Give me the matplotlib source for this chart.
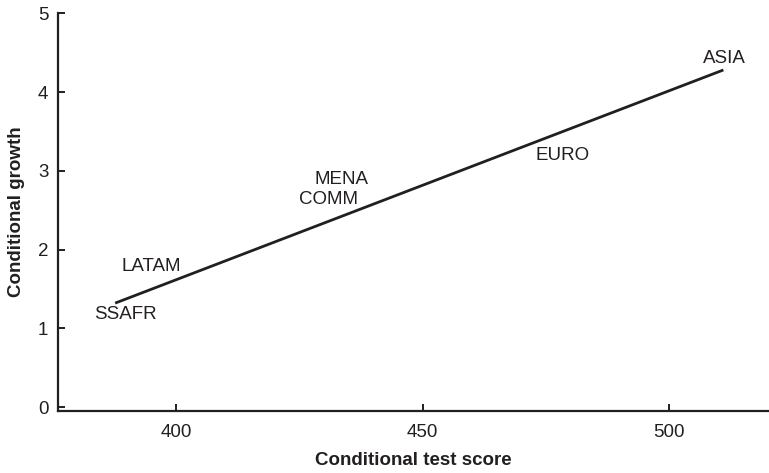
import matplotlib
matplotlib.use('Agg')
import matplotlib.pyplot as plt

# region labels placed at (test score, growth)
regions = ['ASIA', 'EURO', 'MENA', 'COMM', 'LATAM', 'SSAFR']
region_score = [511.3, 478.4, 433.5, 430.9, 394.9, 389.7]
region_growth = [4.43, 3.19, 2.89, 2.64, 1.78, 1.17]

# fitted line end points
fit_score = [387.6, 511.0]
fit_growth = [1.32, 4.28]

x_ticks = [400, 450, 500]
y_ticks = [0, 1, 2, 3, 4, 5]

ink = '#231f20'
plt.rcParams['font.family'] = ['Liberation Sans', 'DejaVu Sans']

fig = plt.figure(figsize=(7.69, 4.73), dpi=100)
ax = fig.add_axes([0.0754, 0.131, 0.923, 0.841])

ax.plot(fit_score, fit_growth, color=ink, linewidth=2.0, solid_capstyle='butt')
for name, xs, ys in zip(regions, region_score, region_growth):
    ax.text(xs, ys, name, ha='center', va='center', fontsize=13.5, color=ink)

ax.set_xlim(376, 520)
ax.set_ylim(-0.05, 5)
ax.set_xticks(x_ticks)
ax.set_yticks(y_ticks)

for side in ['top', 'right']:
    ax.spines[side].set_visible(False)
for side in ['left', 'bottom']:
    ax.spines[side].set_linewidth(1.6)
    ax.spines[side].set_color(ink)

ax.tick_params(axis='both', direction='in', length=5, width=1.4, color=ink,
               labelsize=13.5, labelcolor=ink)
ax.tick_params(axis='x', pad=9)
ax.tick_params(axis='y', pad=7)

ax.set_xlabel('Conditional test score', fontsize=13.5, fontweight='bold', color=ink, labelpad=8)
ax.set_ylabel('Conditional growth', fontsize=13.5, fontweight='bold', color=ink, labelpad=9)

fig.savefig('out.png', dpi=100)
